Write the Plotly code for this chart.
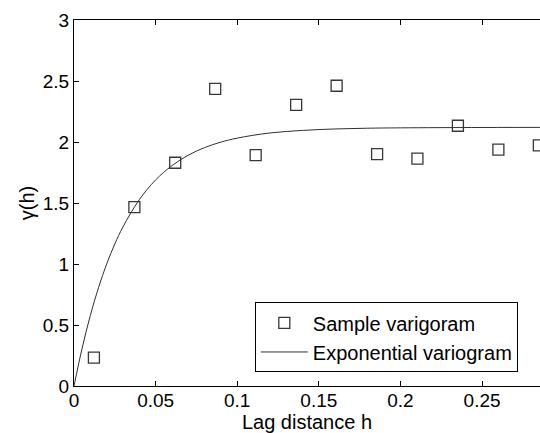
import plotly.graph_objects as go

# Sample variogram
lag_h = [0.0122, 0.0370, 0.0620, 0.0865, 0.1113, 0.1361, 0.1609, 0.1857, 0.2104, 0.2352, 0.2600, 0.2848]
gamma_sample = [0.232, 1.467, 1.830, 2.436, 1.893, 2.305, 2.461, 1.901, 1.863, 2.133, 1.937, 1.972]

# Exponential variogram model curve
model_h = [0.0, 0.005, 0.01, 0.015, 0.02, 0.025, 0.03, 0.04, 0.05, 0.06, 0.07, 0.08, 0.09,
           0.10, 0.12, 0.14, 0.16, 0.18, 0.20, 0.25, 0.30]
model_gamma = [0.0, 0.311, 0.578, 0.806, 0.999, 1.164, 1.304, 1.527, 1.689, 1.806, 1.892, 1.954, 1.999,
               2.032, 2.074, 2.095, 2.107, 2.113, 2.116, 2.119, 2.120]

x_ticks = [0, 0.05, 0.1, 0.15, 0.2, 0.25]
x_tick_text = ["0", "0.05", "0.1", "0.15", "0.2", "0.25"]
y_ticks = [0, 0.5, 1, 1.5, 2, 2.5, 3]
y_tick_text = ["0", "0.5", "1", "1.5", "2", "2.5", "3"]

FONT = "Liberation Sans, Arial, sans-serif"

fig = go.Figure()
fig.add_trace(go.Scatter(
    x=lag_h, y=gamma_sample, mode="markers", name="Sample varigoram",
    marker=dict(symbol="square-open", size=11, color="#383838", line=dict(width=1.3, color="#383838")),
    cliponaxis=False,
))
fig.add_trace(go.Scatter(
    x=model_h, y=model_gamma, mode="lines", name="Exponential variogram",
    line=dict(color="#303030", width=1, shape="spline"),
))

fig.update_layout(
    width=540, height=433,
    margin=dict(l=74, r=0, t=20, b=47),
    paper_bgcolor="white", plot_bgcolor="white",
    font=dict(family=FONT, size=19, color="black"),
    showlegend=True,
    legend=dict(
        x=0.388, y=0.037, xanchor="left", yanchor="bottom",
        bordercolor="black", borderwidth=1, bgcolor="white",
        font=dict(size=20), tracegroupgap=0, itemwidth=47,
        entrywidth=272, entrywidthmode="pixels",
    ),
    xaxis=dict(
        range=[0, 0.2855], tickvals=x_ticks, ticktext=x_tick_text,
        showgrid=False, zeroline=False, showline=True, linecolor="black", linewidth=1,
        mirror="ticks", ticks="inside", ticklen=5, tickcolor="black", tickwidth=1,
        ticklabelstandoff=-3,
        title=dict(text="Lag distance h", standoff=4, font=dict(size=20)),
    ),
    yaxis=dict(
        range=[0, 3], tickvals=y_ticks, ticktext=y_tick_text,
        showgrid=False, zeroline=False, showline=True, linecolor="black", linewidth=1,
        ticks="inside", ticklen=5, tickcolor="black", tickwidth=1,
        title=dict(text="γ(h)", standoff=2, font=dict(size=20)),
    ),
)

fig.write_html("out.html")
